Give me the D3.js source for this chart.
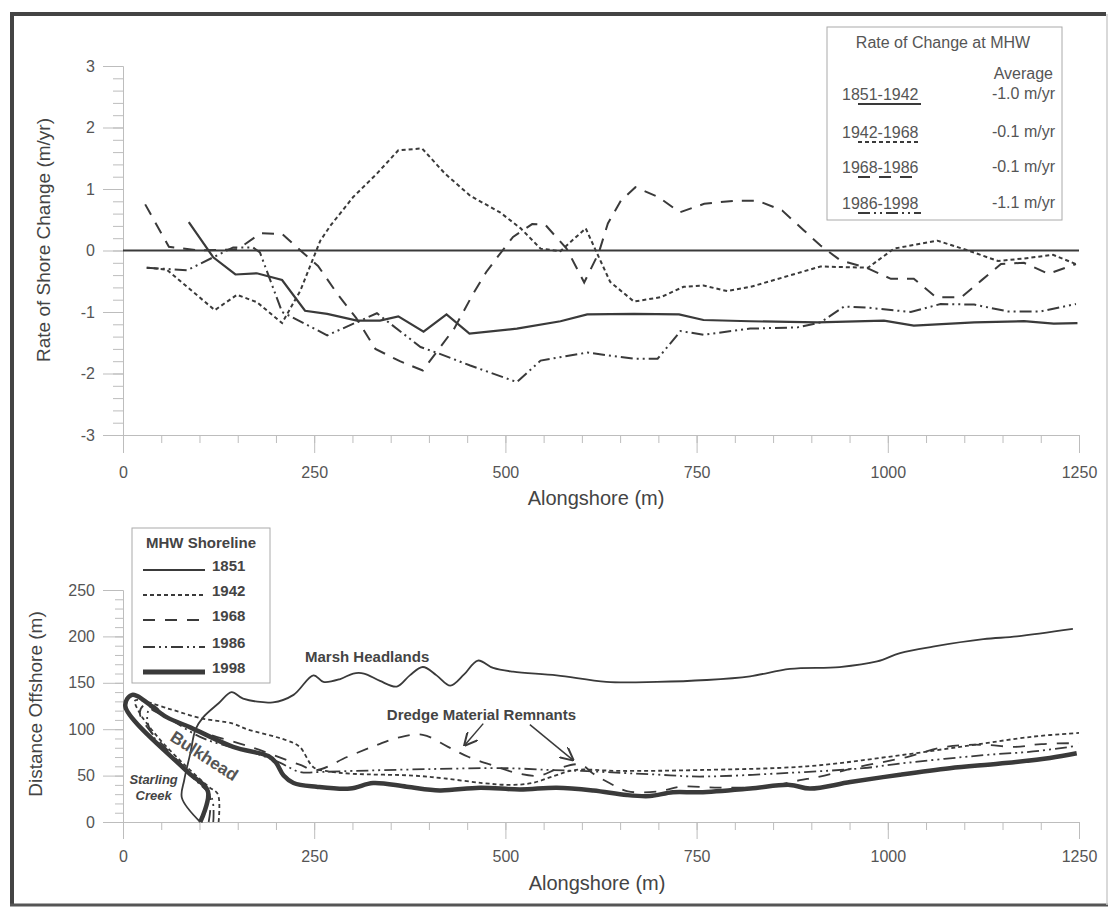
<!DOCTYPE html>
<html>
<head>
<meta charset="utf-8">
<script src="https://cdn.jsdelivr.net/npm/d3@7"></script>
<style>
  body { margin: 0; background: #fff; }
  svg { font-family: "Liberation Sans", Arial, sans-serif; }
  .axis path, .axis line { stroke: #bdbdbd; }
  .axis text { fill: #555; font-size: 16px; font-family: "Liberation Sans", Arial, sans-serif; }
</style>
</head>
<body>
<svg id="chart" width="1109" height="908"></svg>
<script>
// Rate of shore change (m/yr) along shore (m)
const rate1851 = [[86,0.46],[118,-0.11],[147,-0.39],[175,-0.37],[208,-0.48],[238,-0.98],[267,-1.03],[306,-1.14],[336,-1.14],[360,-1.07],[393,-1.32],[423,-1.04],[453,-1.35],[515,-1.27],[572,-1.15],[607,-1.04],[668,-1.03],[727,-1.04],[759,-1.13],[820,-1.15],[908,-1.17],[995,-1.14],[1034,-1.22],[1113,-1.17],[1178,-1.15],[1217,-1.19],[1248,-1.18]];
const rate1942 = [[31,-0.28],[57,-0.31],[120,-0.97],[149,-0.72],[175,-0.84],[208,-1.18],[232,-0.65],[258,0.16],[271,0.4],[301,0.87],[332,1.25],[360,1.63],[391,1.66],[421,1.25],[454,0.89],[493,0.62],[520,0.36],[546,0.03],[572,-0.01],[605,0.36],[620,-0.05],[637,-0.51],[668,-0.83],[703,-0.76],[733,-0.59],[759,-0.57],[790,-0.66],[821,-0.59],[912,-0.26],[974,-0.28],[1008,0.03],[1065,0.16],[1105,0.0],[1144,-0.17],[1178,-0.13],[1216,-0.07],[1246,-0.22]];
const rate1968 = [[29,0.75],[60,0.06],[100,0.0],[150,0.02],[180,0.28],[208,0.27],[232,0.0],[255,-0.25],[280,-0.7],[305,-1.1],[330,-1.6],[362,-1.8],[392,-1.95],[433,-1.27],[458,-0.7],[475,-0.35],[490,-0.1],[510,0.22],[535,0.43],[552,0.42],[580,0.03],[603,-0.52],[622,-0.04],[634,0.44],[651,0.81],[670,1.03],[700,0.87],[728,0.62],[760,0.76],[800,0.81],[830,0.81],[862,0.65],[890,0.33],[912,0.08],[938,-0.16],[972,-0.28],[1004,-0.46],[1034,-0.46],[1063,-0.76],[1096,-0.76],[1122,-0.49],[1148,-0.22],[1178,-0.2],[1210,-0.38],[1246,-0.22]];
const rate1986 = [[31,-0.28],[84,-0.32],[144,0.05],[170,0.05],[179,-0.03],[208,-1.0],[267,-1.38],[332,-1.02],[389,-1.57],[412,-1.67],[454,-1.87],[515,-2.14],[546,-1.79],[607,-1.66],[668,-1.76],[699,-1.76],[729,-1.31],[759,-1.37],[820,-1.27],[882,-1.25],[912,-1.17],[943,-0.91],[974,-0.93],[1030,-1.0],[1069,-0.87],[1113,-0.88],[1157,-0.99],[1200,-0.99],[1246,-0.87]];

// MHW shoreline position, distance offshore (m) along shore (m)
const shore1851 = [[101,0],[77,26],[80,45],[88,74],[95,100],[105,113],[125,128],[142,140],[157,133],[196,129],[223,137],[249,158],[262,151],[284,154],[301,160],[315,160],[336,152],[358,146],[375,158],[392,167],[410,158],[428,147],[446,159],[464,174],[484,166],[510,162],[567,158],[632,151],[698,151],[763,153],[820,157],[872,165],[937,167],[986,173],[1016,182],[1059,189],[1125,197],[1169,200],[1242,208]];
const shore1942 = [[125,0],[124,30],[112,38],[80,62],[45,92],[20,120],[16,131],[60,122],[101,112],[144,106],[162,100],[214,88],[231,81],[249,59],[265,55],[300,52],[380,50],[420,47],[470,42],[506,40],[535,42],[565,50],[590,56],[650,55],[754,56],[894,60],[999,70],[1103,82],[1190,92],[1250,96]];
const shore1968 = [[112,0],[113,30],[88,52],[30,104],[22,118],[28,126],[40,120],[100,98],[170,80],[230,62],[253,56],[293,70],[332,83],[360,91],[392,94],[425,81],[452,70],[487,60],[518,52],[545,50],[567,57],[598,62],[615,52],[636,42],[660,33],[700,33],[730,38],[780,37],[840,38],[885,45],[911,49],[960,59],[1025,70],[1068,80],[1100,83],[1130,83],[1167,81],[1201,84],[1250,85]];
const shore1986 = [[118,0],[116,26],[95,45],[60,72],[40,92],[32,108],[33,120],[38,126],[55,115],[100,92],[131,83],[170,75],[205,64],[231,54],[260,54],[300,55],[400,57],[500,58],[560,56],[600,55],[650,53],[700,51],[754,49],[872,53],[968,58],[1016,63],[1125,72],[1190,76],[1247,82]];
const shore1998 = [[101,0],[111,33],[83,55],[3,125],[12,137],[57,113],[88,102],[144,81],[190,71],[200,64],[210,50],[223,42],[253,38],[297,36],[327,42],[371,38],[414,34],[467,37],[519,35],[567,37],[615,34],[659,29],[689,28],[719,32],[754,32],[820,36],[872,40],[898,36],[951,43],[1016,51],[1081,58],[1147,63],[1212,69],[1247,74]];

const xTicks = [0, 250, 500, 750, 1000, 1250];
const rateTicks = [-3, -2, -1, 0, 1, 2, 3];
const distTicks = [0, 50, 100, 150, 200, 250];

const rateLegend = ["1851-1942", "1942-1968", "1968-1986", "1986-1998"];
const rateAverages = ["-1.0 m/yr", "-0.1 m/yr", "-0.1 m/yr", "-1.1 m/yr"];
const shoreLegend = ["1851", "1942", "1968", "1986", "1998"];

const ink = "#3a3a3a";
const dashes = ["none", "4,3", "12,9", "12,4,2,4,2,4"];
const plain = d => String(d);

const svg = d3.select("#chart");

// frame round the figure
svg.append("line").attr("x1", 12).attr("x2", 1106).attr("y1", 14).attr("y2", 14).attr("stroke", "#444").attr("stroke-width", 4);
svg.append("line").attr("x1", 12).attr("x2", 12).attr("y1", 12).attr("y2", 906).attr("stroke", "#444").attr("stroke-width", 4);
svg.append("line").attr("x1", 10).attr("x2", 1108).attr("y1", 905).attr("y2", 905).attr("stroke", "#555").attr("stroke-width", 3);
svg.append("line").attr("x1", 1107).attr("x2", 1107).attr("y1", 14).attr("y2", 905).attr("stroke", "#ccc").attr("stroke-width", 1.5);

// scales
const x = d3.scaleLinear().domain([0, 1250]).range([123, 1079]);
const yTop = d3.scaleLinear().domain([-3, 3]).range([435, 66]);
const yBot = d3.scaleLinear().domain([0, 250]).range([822, 590]);

// ---------- top chart: rate of change ----------
svg.append("g").attr("class", "axis").attr("transform", "translate(0,435)")
  .call(d3.axisBottom(x).tickValues(d3.range(0, 1251, 50)).tickSize(8).tickFormat("").tickSizeOuter(0));
svg.append("g").attr("class", "axis").attr("transform", "translate(0,435)")
  .call(d3.axisBottom(x).tickValues(xTicks).tickSize(18).tickPadding(14).tickFormat(plain).tickSizeOuter(0));
svg.append("g").attr("class", "axis").attr("transform", "translate(123,0)")
  .call(d3.axisLeft(yTop).tickValues(d3.range(-3, 3.01, 0.2)).tickSize(10).tickFormat("").tickSizeOuter(0));
svg.append("g").attr("class", "axis").attr("transform", "translate(123,0)")
  .call(d3.axisLeft(yTop).tickValues(rateTicks).tickSize(20).tickPadding(8).tickFormat(plain).tickSizeOuter(0));

svg.append("text").attr("x", 596).attr("y", 505).attr("text-anchor", "middle")
  .attr("font-size", 20).attr("fill", "#444").text("Alongshore (m)");
svg.append("text").attr("transform", "translate(50,240) rotate(-90)").attr("text-anchor", "middle")
  .attr("font-size", 19).attr("fill", "#444").text("Rate of Shore Change (m/yr)");

// zero line
svg.append("line").attr("x1", x(0)).attr("x2", x(1250)).attr("y1", yTop(0)).attr("y2", yTop(0))
  .attr("stroke", ink).attr("stroke-width", 2);

const rateLine = d3.line().x(d => x(d[0])).y(d => yTop(d[1]));
[rate1851, rate1942, rate1968, rate1986].forEach(function (s, i) {
  svg.append("path").datum(s).attr("d", rateLine)
    .attr("fill", "none").attr("stroke", ink).attr("stroke-width", i === 0 ? 2.2 : 2)
    .attr("stroke-dasharray", dashes[i]);
});

// top legend
const lg = svg.append("g");
lg.append("rect").attr("x", 827).attr("y", 27).attr("width", 235).attr("height", 193)
  .attr("fill", "#fff").attr("stroke", "#aaa").attr("stroke-width", 1);
lg.append("text").attr("x", 943).attr("y", 48).attr("text-anchor", "middle")
  .attr("font-size", 16).attr("fill", "#555").text("Rate of Change at MHW");
lg.append("text").attr("x", 1053).attr("y", 79).attr("text-anchor", "end")
  .attr("font-size", 16).attr("fill", "#555").text("Average");
const legY = [94, 132, 167, 203];
rateLegend.forEach(function (t, i) {
  lg.append("text").attr("x", 842).attr("y", legY[i] + 6).attr("font-size", 16).attr("fill", "#555").text(t);
  lg.append("text").attr("x", 1055).attr("y", legY[i] + 5).attr("text-anchor", "end")
    .attr("font-size", 16).attr("fill", "#555").text(rateAverages[i]);
  lg.append("line").attr("x1", 858).attr("x2", 921).attr("y1", legY[i] + 10).attr("y2", legY[i] + 10)
    .attr("stroke", ink).attr("stroke-width", 2).attr("stroke-dasharray", dashes[i]);
});

// ---------- bottom chart: shoreline positions ----------
svg.append("g").attr("class", "axis").attr("transform", "translate(0,822)")
  .call(d3.axisBottom(x).tickValues(d3.range(0, 1251, 50)).tickSize(8).tickFormat("").tickSizeOuter(0));
svg.append("g").attr("class", "axis").attr("transform", "translate(0,822)")
  .call(d3.axisBottom(x).tickValues(xTicks).tickSize(17).tickPadding(12).tickFormat(plain).tickSizeOuter(0));
svg.append("g").attr("class", "axis").attr("transform", "translate(123,0)")
  .call(d3.axisLeft(yBot).tickValues(d3.range(0, 251, 10)).tickSize(8).tickFormat("").tickSizeOuter(0));
svg.append("g").attr("class", "axis").attr("transform", "translate(123,0)")
  .call(d3.axisLeft(yBot).tickValues(distTicks).tickSize(20).tickPadding(8).tickFormat(plain).tickSizeOuter(0));

svg.append("text").attr("x", 597).attr("y", 890).attr("text-anchor", "middle")
  .attr("font-size", 20).attr("fill", "#444").text("Alongshore (m)");
svg.append("text").attr("transform", "translate(42,704) rotate(-90)").attr("text-anchor", "middle")
  .attr("font-size", 19).attr("fill", "#444").text("Distance Offshore (m)");

const shoreLine = d3.line().x(d => x(d[0])).y(d => yBot(d[1])).curve(d3.curveCatmullRom.alpha(0.5));
const shoreSeries = [shore1851, shore1942, shore1968, shore1986, shore1998];
const shoreDash = ["none", "4,3", "12,10", "12,4,2,4,2,4", "none"];
const shoreWidth = [1.8, 1.8, 1.8, 1.8, 4.5];
shoreSeries.forEach(function (s, i) {
  svg.append("path").datum(s).attr("d", shoreLine)
    .attr("fill", "none").attr("stroke", ink).attr("stroke-width", shoreWidth[i])
    .attr("stroke-dasharray", shoreDash[i]).attr("stroke-linejoin", "round");
});

// bottom legend
const lb = svg.append("g");
lb.append("rect").attr("x", 132).attr("y", 528).attr("width", 138).attr("height", 155)
  .attr("fill", "#fff").attr("stroke", "#aaa").attr("stroke-width", 1);
lb.append("text").attr("x", 201).attr("y", 548).attr("text-anchor", "middle")
  .attr("font-size", 15).attr("font-weight", "bold").attr("fill", "#444").text("MHW Shoreline");
const lbY = [566, 591, 616, 643, 668];
shoreLegend.forEach(function (t, i) {
  lb.append("line").attr("x1", 143).attr("x2", 205).attr("y1", lbY[i] + 4).attr("y2", lbY[i] + 4)
    .attr("stroke", ink).attr("stroke-width", shoreWidth[i] === 4.5 ? 5 : 2).attr("stroke-dasharray", shoreDash[i]);
  lb.append("text").attr("x", 212).attr("y", lbY[i] + 5).attr("font-size", 15).attr("font-weight", "bold")
    .attr("fill", "#444").text(t);
});

// annotations
svg.append("text").attr("x", x(238)).attr("y", yBot(172)).attr("font-size", 15).attr("font-weight", "bold")
  .attr("fill", "#444").text("Marsh Headlands");
svg.append("text").attr("x", x(345)).attr("y", yBot(110)).attr("font-size", 15).attr("font-weight", "bold")
  .attr("fill", "#444").text("Dredge Material Remnants");
svg.append("text").attr("transform", `translate(${x(102)},${yBot(66)}) rotate(33)`).attr("text-anchor", "middle")
  .attr("font-size", 17).attr("font-weight", "bold").attr("fill", "#555").text("Bulkhead");
svg.append("text").attr("x", x(40)).attr("y", yBot(41)).attr("text-anchor", "middle").attr("font-size", 13)
  .attr("font-weight", "bold").attr("font-style", "italic").attr("fill", "#444").text("Starling");
svg.append("text").attr("x", x(40)).attr("y", yBot(24)).attr("text-anchor", "middle").attr("font-size", 13)
  .attr("font-weight", "bold").attr("font-style", "italic").attr("fill", "#444").text("Creek");

svg.append("defs").append("marker").attr("id", "arrow").attr("viewBox", "0 0 10 10")
  .attr("refX", 9).attr("refY", 5).attr("markerWidth", 9).attr("markerHeight", 9).attr("orient", "auto")
  .append("path").attr("d", "M0,0 L10,5 L0,10").attr("fill", "none").attr("stroke", ink).attr("stroke-width", 1.5);
const arrows = [[[471, 106], [447, 83]], [[532, 105], [588, 67]]];
arrows.forEach(function (a) {
  svg.append("line").attr("x1", x(a[0][0])).attr("y1", yBot(a[0][1])).attr("x2", x(a[1][0])).attr("y2", yBot(a[1][1]))
    .attr("stroke", ink).attr("stroke-width", 1.5).attr("marker-end", "url(#arrow)");
});
</script>
</body>
</html>
